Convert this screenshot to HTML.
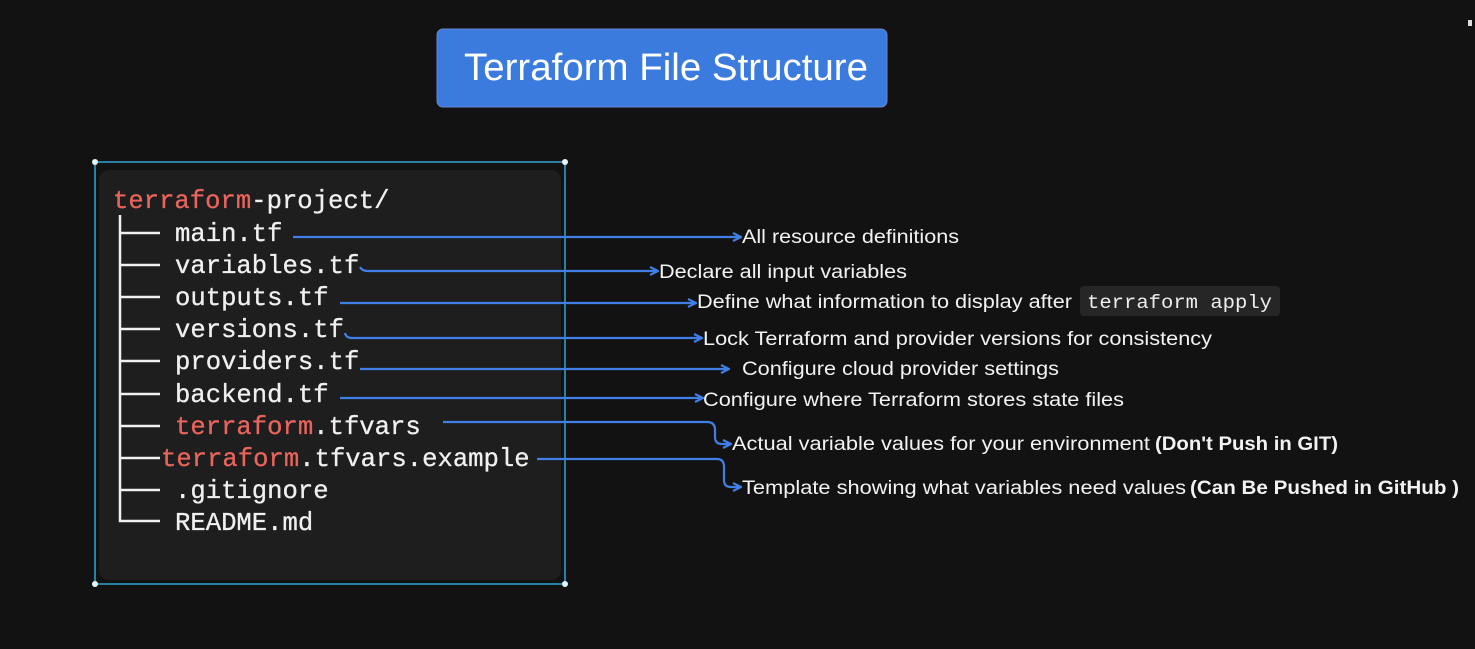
<!DOCTYPE html>
<html><head><meta charset="utf-8"><style>
html,body{margin:0;padding:0;background:#121212;width:1475px;height:649px;overflow:hidden}
</style></head><body>
<svg width="1475" height="649" viewBox="0 0 1475 649" xmlns="http://www.w3.org/2000/svg">
<defs>
<marker id="a" markerWidth="10" markerHeight="10" refX="8" refY="5" orient="auto" markerUnits="userSpaceOnUse">
<path d="M1,1 L9,5 L1,9" fill="none" stroke="#3f7fe6" stroke-width="2.2"/>
</marker>
</defs>
<rect width="1475" height="649" fill="#121212"/>
<rect x="437" y="29" width="450" height="78" rx="6" fill="#3b7bdd" stroke="#6a86d8" stroke-width="1"/>
<text x="464" y="80" font-family="Liberation Sans, sans-serif" font-size="38" fill="#fff" textLength="404" lengthAdjust="spacingAndGlyphs">Terraform File Structure</text>

<rect x="99" y="170" width="462" height="410" rx="10" fill="#1e1e1e"/>
<rect x="95" y="162" width="470" height="422" fill="none" stroke="#2fa6d6" stroke-width="1.5"/>
<g fill="#e6f6ff"><circle cx="95" cy="162" r="3"/><circle cx="565" cy="162" r="3"/><circle cx="95" cy="584" r="3"/><circle cx="565" cy="584" r="3"/></g>

<g font-family="Liberation Mono, monospace" font-size="25.6" fill="#f0f0f0" stroke="#f0f0f0" stroke-width="0.3">
<text x="113" y="208"><tspan fill="#e8645c" stroke="#e8645c">terraform</tspan>-project/</text>
<text x="175" y="241">main.tf</text>
<text x="175" y="273">variables.tf</text>
<text x="175" y="305">outputs.tf</text>
<text x="175" y="337">versions.tf</text>
<text x="175" y="369">providers.tf</text>
<text x="175" y="402">backend.tf</text>
<text x="175" y="434"><tspan fill="#e8645c" stroke="#e8645c">terraform</tspan>.tfvars</text>
<text x="161" y="466"><tspan fill="#e8645c" stroke="#e8645c">terraform</tspan>.tfvars.example</text>
<text x="175" y="498">.gitignore</text>
<text x="175" y="530">README.md</text>
</g>
<g stroke="#f0f0f0" stroke-width="2.5" fill="none">
<path d="M120,215 V521 H160"/>
<path d="M120,233 H160 M120,265 H160 M120,297 H160 M120,329 H160 M120,361 H160 M120,394 H160 M120,426 H160 M120,458 H160 M120,490 H160"/>
</g>

<g stroke="#3f7fe6" stroke-width="2.2" fill="none" marker-end="url(#a)">
<path d="M293,237 H740"/>
<path d="M360,267 Q362,271 368,271 H657"/>
<path d="M340,303 H695"/>
<path d="M345,333 Q346,338 352,338 H701"/>
<path d="M360,369 H728"/>
<path d="M340,398 H702"/>
<path d="M443,422 H707 Q715,422 715,430 V437 Q715,444 722,444 H730"/>
<path d="M537,459 H717 Q724,459 724,467 V480 Q724,487 731,487 H740"/>
</g>

<rect x="1080" y="286" width="200" height="30" rx="4" fill="#262626"/>
<text x="1087" y="308" font-family="Liberation Mono, monospace" font-size="19" fill="#eee" textLength="185" lengthAdjust="spacingAndGlyphs">terraform apply</text>

<g font-family="Liberation Sans, sans-serif" font-size="19" fill="#f2f2f2">
<text x="742" y="243" textLength="217" lengthAdjust="spacingAndGlyphs">All resource definitions</text>
<text x="659" y="278" textLength="248" lengthAdjust="spacingAndGlyphs">Declare all input variables</text>
<text x="697" y="308" textLength="375" lengthAdjust="spacingAndGlyphs">Define what information to display after</text>
<text x="703" y="345" textLength="509" lengthAdjust="spacingAndGlyphs">Lock Terraform and provider versions for consistency</text>
<text x="742" y="375" textLength="317" lengthAdjust="spacingAndGlyphs">Configure cloud provider settings</text>
<text x="703" y="406" textLength="421" lengthAdjust="spacingAndGlyphs">Configure where Terraform stores state files</text>
<text x="732" y="450" textLength="418" lengthAdjust="spacingAndGlyphs">Actual variable values for your environment</text>
<text x="1155" y="450" font-weight="bold" textLength="183" lengthAdjust="spacingAndGlyphs">(Don't Push in GIT)</text>
<text x="742" y="494" textLength="444" lengthAdjust="spacingAndGlyphs">Template showing what variables need values</text>
<text x="1190" y="494" font-weight="bold" textLength="269" lengthAdjust="spacingAndGlyphs">(Can Be Pushed in GitHub )</text>
</g>
<rect x="1468" y="20" width="4" height="6" fill="#ddd"/>
</svg>
</body></html>
